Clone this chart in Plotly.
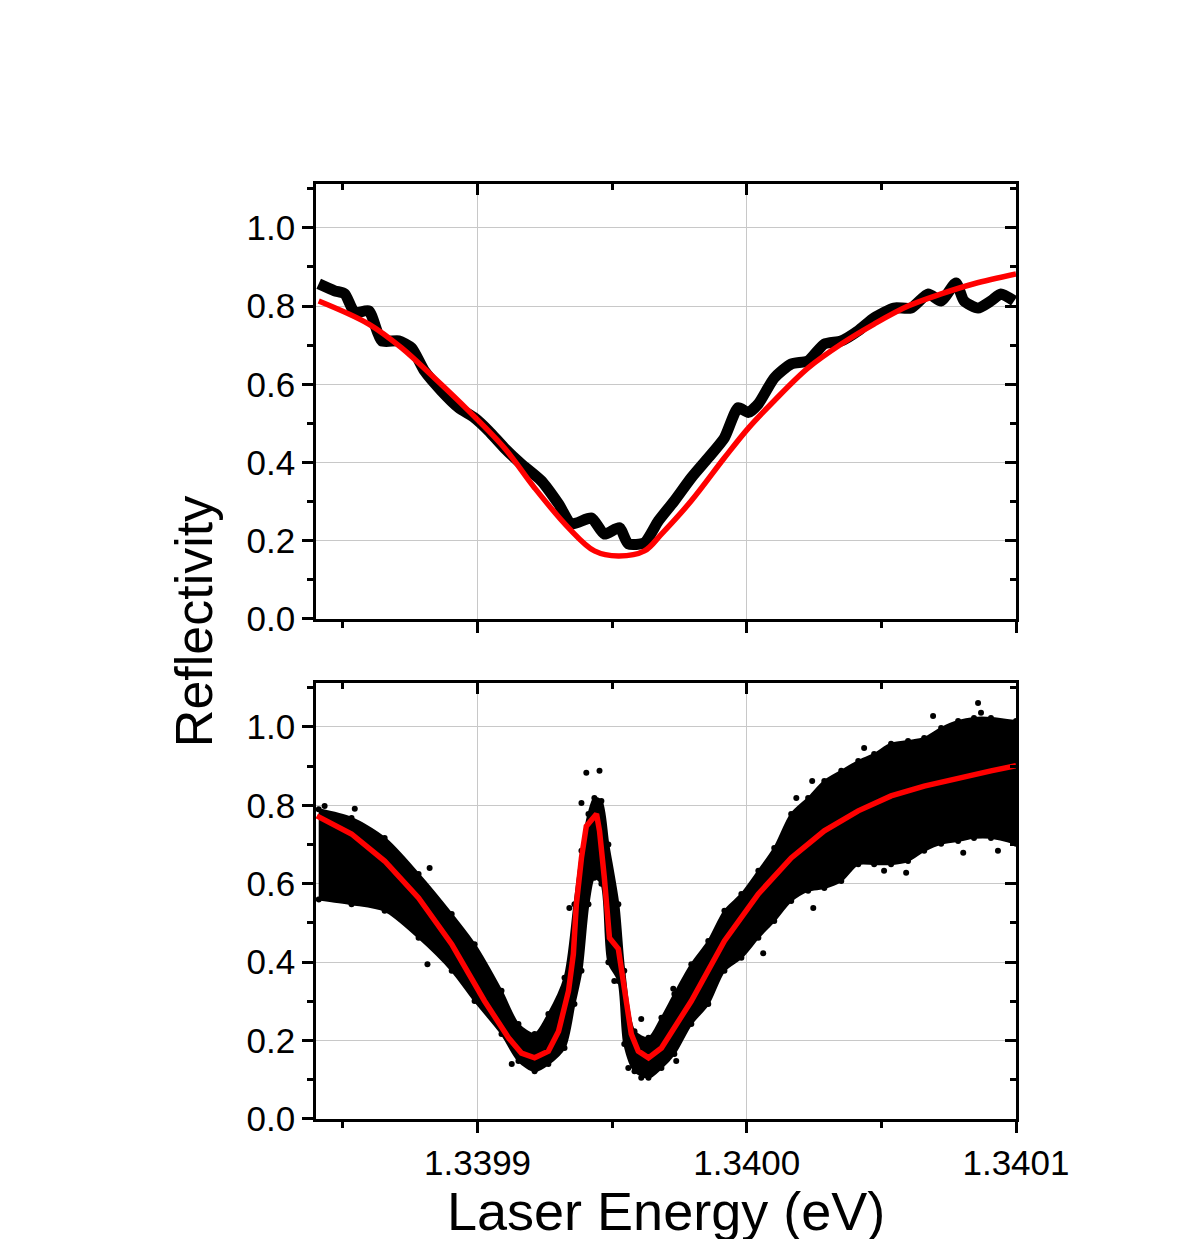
import plotly.graph_objects as go

# ---- top panel: measured reflectivity (thick trace) ----
top_e = [1.3398410, 1.3398469, 1.3398507, 1.3398544, 1.3398596, 1.3398644, 1.3398707,
         1.3398755, 1.3398803, 1.3398866, 1.3398930, 1.3398989, 1.3399041, 1.3399100,
         1.3399163, 1.3399237, 1.3399301, 1.3399349, 1.3399423, 1.3399471, 1.3399527,
         1.3399560, 1.3399620, 1.3399672, 1.3399731, 1.3399794, 1.3399857, 1.3399917,
         1.3399968, 1.3400006, 1.3400043, 1.3400102, 1.3400165, 1.3400228, 1.3400288,
         1.3400351, 1.3400414, 1.3400473, 1.3400547, 1.3400610, 1.3400674, 1.3400722,
         1.3400777, 1.3400807, 1.3400859, 1.3400907, 1.3400944, 1.3400993]
top_r = [0.857, 0.839, 0.831, 0.783, 0.788, 0.711, 0.711,
         0.693, 0.634, 0.583, 0.540, 0.514, 0.481, 0.437,
         0.396, 0.353, 0.294, 0.243, 0.258, 0.217, 0.233,
         0.192, 0.195, 0.251, 0.302, 0.361, 0.412, 0.463,
         0.540, 0.528, 0.550, 0.616, 0.652, 0.660, 0.703,
         0.711, 0.737, 0.770, 0.795, 0.795, 0.831, 0.813,
         0.859, 0.813, 0.795, 0.813, 0.831, 0.813]

# ---- top panel: fit ----
top_fit_e = [1.3398410, 1.3398596, 1.3398718, 1.3398840, 1.3398967, 1.3399100, 1.3399212,
             1.3399338, 1.3399434, 1.3399523, 1.3399620, 1.3399683, 1.3399794, 1.3399917,
             1.3400006, 1.3400102, 1.3400228, 1.3400351, 1.3400473, 1.3400599, 1.3400722,
             1.3400844, 1.3401000]
top_fit_r = [0.813, 0.754, 0.693, 0.616, 0.532, 0.437, 0.335,
             0.233, 0.174, 0.161, 0.174, 0.217, 0.302, 0.412,
             0.488, 0.558, 0.642, 0.703, 0.754, 0.800, 0.831,
             0.857, 0.882]

# ---- bottom panel: scatter cloud (upper / lower envelope) ----
bot_e = [1.3398410, 1.3398532, 1.3398655, 1.3398781, 1.3398904, 1.3398989, 1.3399089,
         1.3399152, 1.3399212, 1.3399263, 1.3399323, 1.3399360, 1.3399386, 1.3399412,
         1.3399434, 1.3399460, 1.3399486, 1.3399523, 1.3399545, 1.3399583, 1.3399635,
         1.3399683, 1.3399731, 1.3399794, 1.3399857, 1.3399917, 1.3399980, 1.3400043,
         1.3400102, 1.3400165, 1.3400228, 1.3400288, 1.3400351, 1.3400414, 1.3400473,
         1.3400536, 1.3400599, 1.3400659, 1.3400722, 1.3400785, 1.3400844, 1.3400907,
         1.3401000]
bot_upper = [0.790, 0.768, 0.717, 0.625, 0.523, 0.446, 0.327,
             0.242, 0.217, 0.268, 0.360, 0.548, 0.684, 0.778,
             0.819, 0.811, 0.700, 0.548, 0.378, 0.224, 0.207,
             0.258, 0.319, 0.395, 0.454, 0.531, 0.574, 0.633,
             0.691, 0.778, 0.819, 0.862, 0.888, 0.913, 0.931,
             0.957, 0.964, 0.972, 0.997, 1.015, 1.023, 1.023,
             1.015]
bot_lower = [0.560, 0.548, 0.531, 0.462, 0.378, 0.301, 0.217,
             0.148, 0.122, 0.140, 0.181, 0.293, 0.378, 0.548,
             0.615, 0.600, 0.400, 0.352, 0.191, 0.122, 0.105,
             0.130, 0.166, 0.242, 0.293, 0.378, 0.411, 0.462,
             0.505, 0.556, 0.582, 0.589, 0.607, 0.650, 0.650,
             0.650, 0.658, 0.684, 0.702, 0.709, 0.717, 0.717,
             0.702]

# stray points outside the dense cloud
out_e = [1.3399404, 1.3399453, 1.3399386, 1.3398814, 1.3398432, 1.3398544, 1.3398822,
         1.3399341, 1.3399508, 1.3399127, 1.3399560, 1.3399608, 1.3399608,
         1.3400859, 1.3400870, 1.3400692, 1.3400436, 1.3400243, 1.3400184, 1.3400510,
         1.3400592, 1.3400247, 1.3400061, 1.3399727, 1.3399738, 1.3400804, 1.3400933]
out_r = [0.883, 0.888, 0.806, 0.395, 0.798, 0.791, 0.640,
         0.538, 0.352, 0.140, 0.130, 0.105, 0.255,
         1.061, 1.036, 1.028, 0.946, 0.862, 0.819, 0.633,
         0.628, 0.538, 0.423, 0.332, 0.148, 0.679, 0.684]

# ---- bottom panel: fit ----
bot_fit_e = [1.3398403, 1.3398532, 1.3398655, 1.3398781, 1.3398904, 1.3399026, 1.3399115,
             1.3399163, 1.3399212, 1.3399263, 1.3399301, 1.3399338, 1.3399356, 1.3399367,
             1.3399386, 1.3399404, 1.3399442, 1.3399453, 1.3399471, 1.3399490, 1.3399523,
             1.3399545, 1.3399571, 1.3399597, 1.3399635, 1.3399683, 1.3399794, 1.3399917,
             1.3400043, 1.3400165, 1.3400288, 1.3400414, 1.3400536, 1.3400659, 1.3400785,
             1.3400907, 1.3401000]
bot_fit_r = [0.773, 0.727, 0.658, 0.564, 0.446, 0.301, 0.207,
             0.168, 0.156, 0.173, 0.224, 0.327, 0.421, 0.548,
             0.666, 0.747, 0.778, 0.735, 0.615, 0.462, 0.434,
             0.334, 0.217, 0.173, 0.156, 0.181, 0.301, 0.454,
             0.574, 0.666, 0.735, 0.786, 0.824, 0.849, 0.870,
             0.888, 0.901]

x_range = [1.33984, 1.3401]
y_range = [0, 1.112]
font = "Liberation Sans, Arial, sans-serif"

fig = go.Figure()

# bottom panel
fig.add_trace(go.Scatter(x=bot_e, y=bot_lower, mode="lines+markers", line_shape="spline",
                         line=dict(color="black", width=2, smoothing=0.8),
                         marker=dict(color="black", size=6), xaxis="x", yaxis="y"))
fig.add_trace(go.Scatter(x=bot_e, y=bot_upper, mode="lines+markers", fill="tonexty",
                         line_shape="spline", fillcolor="black",
                         line=dict(color="black", width=2, smoothing=0.8),
                         marker=dict(color="black", size=6), xaxis="x", yaxis="y"))
fig.add_trace(go.Scatter(x=out_e, y=out_r, mode="markers",
                         marker=dict(color="black", size=6), xaxis="x", yaxis="y"))
fig.add_trace(go.Scatter(x=bot_fit_e, y=bot_fit_r, mode="lines",
                         line=dict(color="#ff0000", width=5.5), xaxis="x", yaxis="y"))

# top panel
fig.add_trace(go.Scatter(x=top_e, y=top_r, mode="lines", line_shape="spline",
                         line=dict(color="black", width=11, smoothing=0.6),
                         xaxis="x2", yaxis="y2"))
fig.add_trace(go.Scatter(x=top_fit_e, y=top_fit_r, mode="lines", line_shape="spline",
                         line=dict(color="#ff0000", width=5.5), xaxis="x2", yaxis="y2"))

# empty traces so the mirror axes get drawn
fig.add_trace(go.Scatter(x=[], y=[], xaxis="x3", yaxis="y3"))
fig.add_trace(go.Scatter(x=[], y=[], xaxis="x4", yaxis="y4"))

tickfont = dict(family=font, size=35, color="black")

def xax(**kw):
    d = dict(range=x_range, tick0=1.3399, dtick=0.0001, tickformat=".4f",
             showline=True, linecolor="black", linewidth=2.5,
             tickcolor="black", tickwidth=2.5, ticklen=11, ticks="outside",
             minor=dict(ticks="outside", ticklen=6, tickwidth=2.5, tickcolor="black",
                        dtick=0.00005, tick0=1.3399, showgrid=False),
             showgrid=True, gridcolor="#c8c8c8", gridwidth=1, zeroline=False,
             tickfont=tickfont, automargin=False)
    d.update(kw)
    return d

def yax(**kw):
    d = dict(range=y_range, tick0=0, dtick=0.2, tickformat=".1f",
             showline=True, linecolor="black", linewidth=2.5,
             tickcolor="black", tickwidth=2.5, ticklen=11, ticks="outside",
             minor=dict(ticks="outside", ticklen=6, tickwidth=2.5, tickcolor="black",
                        dtick=0.1, tick0=0, showgrid=False),
             showgrid=True, gridcolor="#c8c8c8", gridwidth=1, zeroline=False,
             tickfont=tickfont, automargin=False)
    d.update(kw)
    return d

mirror_x = dict(ticks="inside", showticklabels=False, showgrid=False, showline=False,
                minor=dict(ticks="inside", ticklen=6, tickwidth=2.5, tickcolor="black",
                           dtick=0.00005, tick0=1.3399, showgrid=False))
mirror_y = dict(ticks="inside", showticklabels=False, showgrid=False, showline=False,
                minor=dict(ticks="inside", ticklen=6, tickwidth=2.5, tickcolor="black",
                           dtick=0.1, tick0=0, showgrid=False))

bot_dom = [0, 0.4663]
top_dom = [0.5348, 1]

fig.update_layout(
    width=1183, height=1232,
    margin=dict(l=308, r=175, t=176, b=121),
    paper_bgcolor="white", plot_bgcolor="white",
    showlegend=False,
    font=dict(family=font, color="black"),
    xaxis=xax(anchor="y", mirror=True),
    yaxis=yax(domain=bot_dom, anchor="x", mirror=True),
    xaxis2=xax(anchor="y2", matches="x", showticklabels=False, mirror=True),
    yaxis2=yax(domain=top_dom, anchor="x2", mirror=True),
    xaxis3=xax(overlaying="x", anchor="y", side="top", **mirror_x),
    yaxis3=yax(overlaying="y", anchor="x", side="right", **mirror_y),
    xaxis4=xax(overlaying="x2", anchor="y2", side="top", **mirror_x),
    yaxis4=yax(overlaying="y2", anchor="x2", side="right", **mirror_y),
    annotations=[
        dict(text="Reflectivity", xref="paper", yref="paper", x=-0.174, y=0.5316,
             textangle=-90, showarrow=False, xanchor="center", yanchor="middle",
             font=dict(family=font, size=52, color="black")),
        dict(text="Laser Energy (eV)", xref="paper", yref="paper", x=0.5, y=-0.098,
             showarrow=False, xanchor="center", yanchor="middle",
             font=dict(family=font, size=54, color="black")),
    ],
)

fig.write_html("out.html")
